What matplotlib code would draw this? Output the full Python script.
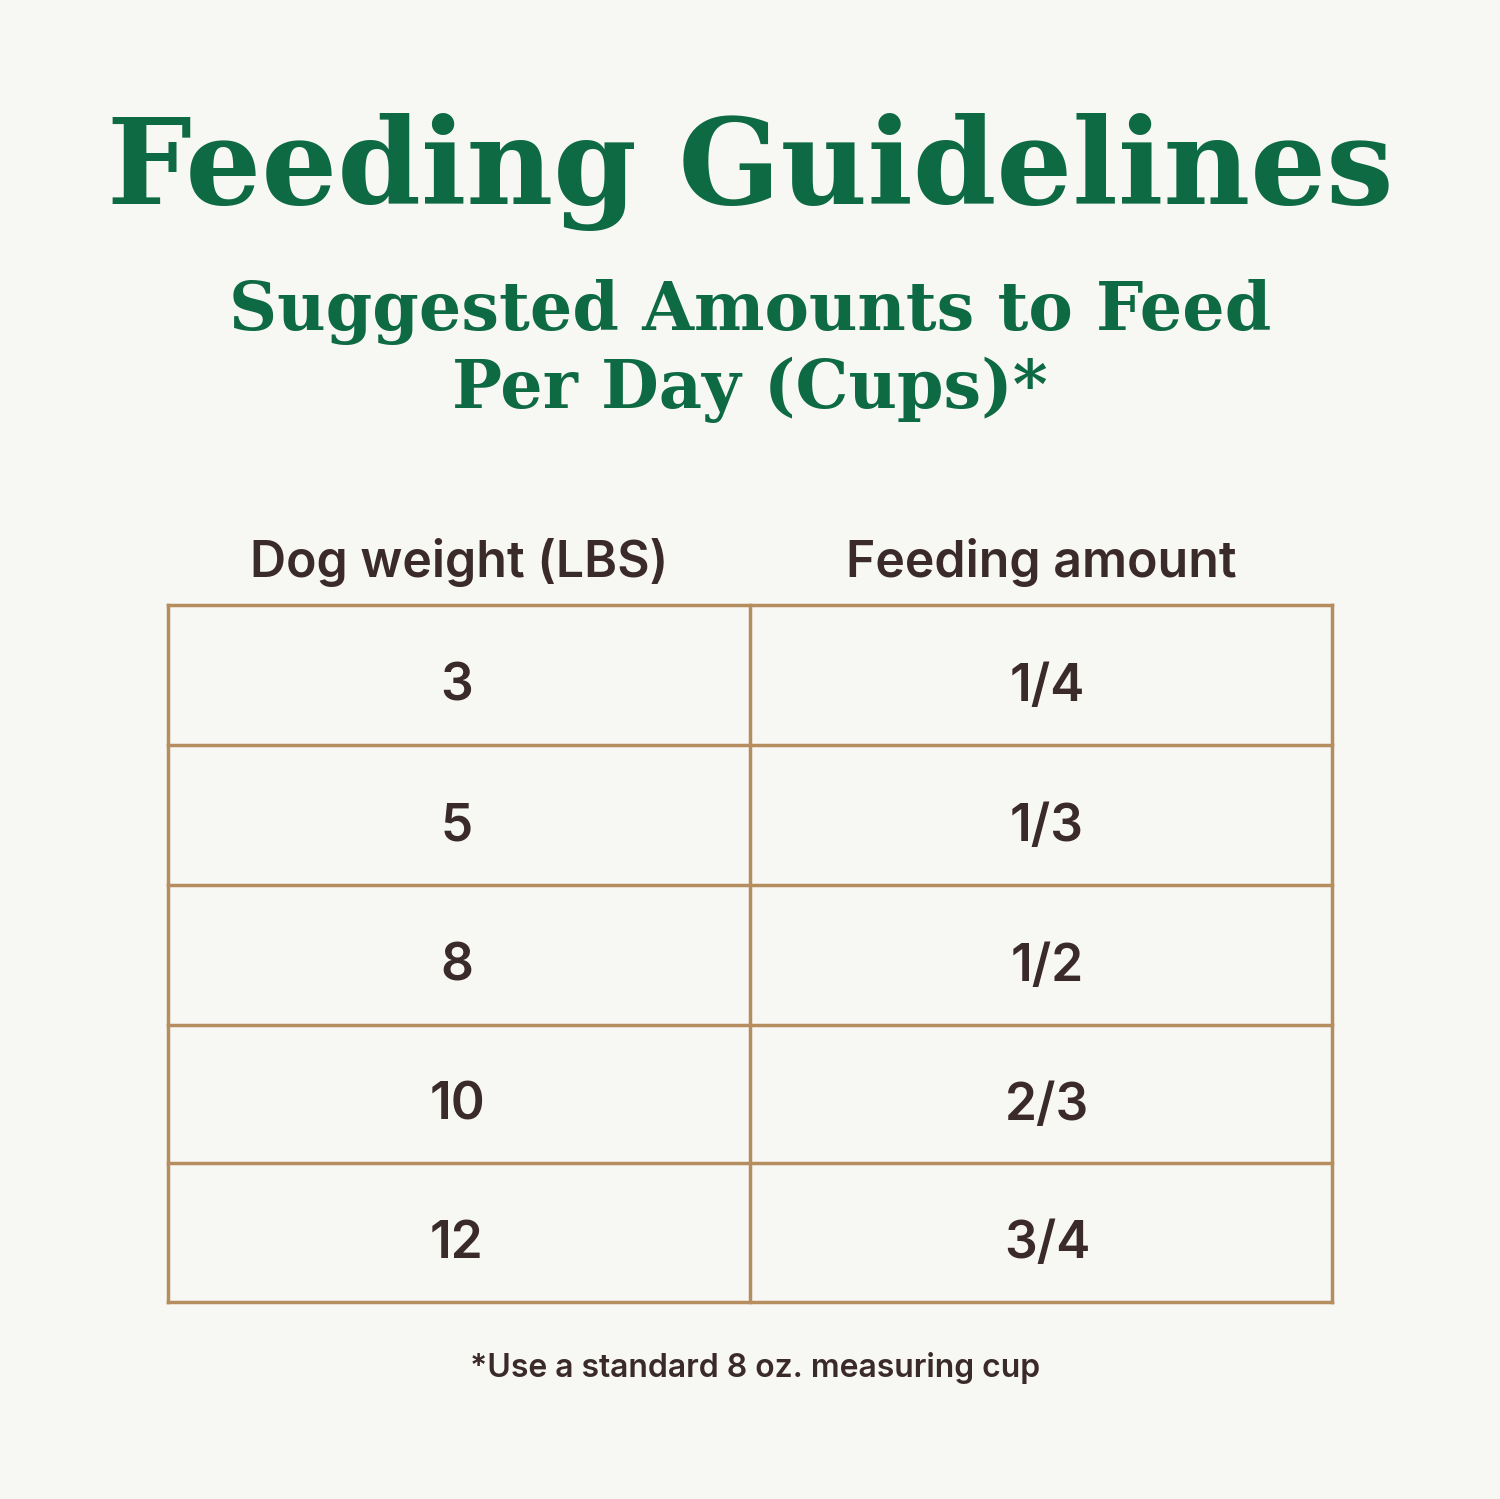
import matplotlib.pyplot as plt

# table contents
headers = ["Dog weight (LBS)", "Feeding amount"]
weights = ["3", "5", "8", "10", "12"]
amounts = ["1/4", "1/3", "1/2", "2/3", "3/4"]

bg = "#f7f7f3"
green = "#0d6a43"
brown = "#3b2a2a"
line = "#b58d5e"

fig = plt.figure(figsize=(15, 14.99), dpi=100, facecolor=bg)
ax = fig.add_axes([0, 0, 1, 1])
ax.set_xlim(0, 1500)
ax.set_ylim(1499, 0)
ax.axis("off")

ax.text(750, 172, "Feeding Guidelines", ha="center", va="center",
        fontsize=86, fontweight="bold", family="DejaVu Serif", color=green)
ax.text(750, 312, "Suggested Amounts to Feed", ha="center", va="center",
        fontsize=48, fontweight="bold", family="DejaVu Serif", color=green)
ax.text(750, 390, "Per Day (Cups)*", ha="center", va="center",
        fontsize=48, fontweight="bold", family="DejaVu Serif", color=green)

left, mid, right = 168, 750, 1332
tops = [605, 745, 885, 1025, 1163, 1302]

ax.text((left + mid) / 2, 562, headers[0], ha="center", va="center",
        fontsize=36, fontweight="semibold", family="Inter", color=brown)
ax.text((mid + right) / 2, 562, headers[1], ha="center", va="center",
        fontsize=36, fontweight="semibold", family="Inter", color=brown)

for y in tops:
    ax.plot([left, right], [y, y], color=line, lw=2.5)
for x in (left, mid, right):
    ax.plot([x, x], [tops[0], tops[-1]], color=line, lw=2.5)

for i, (w, a) in enumerate(zip(weights, amounts)):
    yc = (tops[i] + tops[i + 1]) / 2 + 12
    ax.text((left + mid) / 2 - 2, yc, w, ha="center", va="center",
            fontsize=37, fontweight="semibold", family="Inter", color=brown)
    ax.text((mid + right) / 2 + 6, yc, a, ha="center", va="center",
            fontsize=37, fontweight="semibold", family="Inter", color=brown)

ax.text(755, 1368, "*Use a standard 8 oz. measuring cup", ha="center", va="center",
        fontsize=23, fontweight="semibold", family="Inter", color=brown)

fig.savefig("out.png", dpi=100, facecolor=bg)
